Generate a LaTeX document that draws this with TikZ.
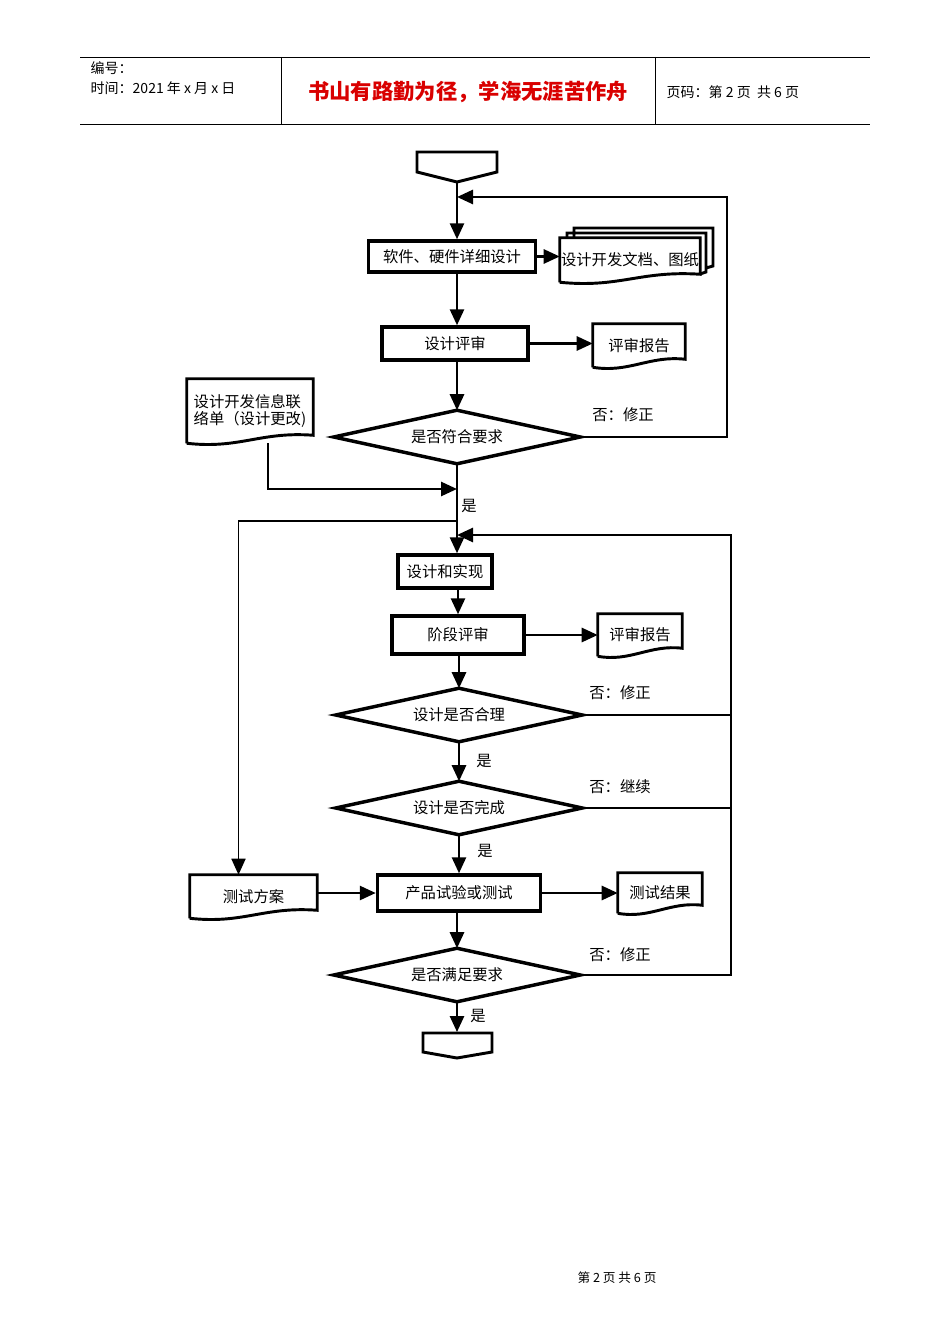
\documentclass[tikz,border=0pt]{standalone}
\usepackage{fontspec}
\setmainfont{Noto Sans CJK SC}
\usetikzlibrary{shapes.geometric,arrows.meta,calc}
\begin{document}
\begin{tikzpicture}[x=0.75pt,y=-0.75pt,
  box/.style={draw,line width=2.6pt,inner sep=0pt,font=\fontsize{11.5}{13}\selectfont},
  doc/.style={inner sep=0pt,font=\fontsize{11.5}{13}\selectfont},
  dia/.style={inner sep=0pt,minimum width=184.5pt,minimum height=39.75pt,font=\fontsize{11.5}{13}\selectfont},
  arr/.style={line width=2pt,-{Triangle[length=12pt,width=10.5pt]}},
  ln/.style={line width=2pt},
  lab/.style={font=\fontsize{11.5}{13}\selectfont},
  docline/.style={line width=2.2pt}]
\fill[white] (0,0) rectangle (950,1344);
\useasboundingbox (0,0) rectangle (950,1344);
% header
\draw[line width=0.6pt] (80,57) -- (870,57) (80,124) -- (870,124) (281,57) -- (281,124) (655,57) -- (655,124);
\node[anchor=west,font=\fontsize{10.5}{12}\selectfont] (h1) at (86,68) {编号：};
\node[anchor=west,font=\fontsize{10.5}{12}\selectfont] (h2) at (86,88) {时间：2021 年 x 月 x 日};
\node[font=\fontsize{16}{18}\selectfont\bfseries,text=red!85!black] (h3) at (468,92) {书山有路勤为径，学海无涯苦作舟};
\node[anchor=west,font=\fontsize{10.5}{12}\selectfont] (h4) at (662,92) {页码：第 2 页\ \ 共 6 页};
\node[font=\fontsize{9.5}{11}\selectfont] (ft) at (617,1278) {第 2 页 共 6 页};
% start / end
\node[minimum width=60pt,minimum height=19.5pt,inner sep=0pt] (st) at (457,165) {};
\draw[line width=2.2pt] (417,152) -- (497,152) -- (497,172) -- (457,182) -- (417,172) -- cycle;
\coordinate (stb) at (457,182);
\node[minimum width=52pt,minimum height=19pt,inner sep=0pt] (en) at (457,1045) {};
\draw[line width=2.2pt] (423,1033) -- (492,1033) -- (492,1052) -- (457,1058) -- (423,1052) -- cycle;
% boxes
\node[box,minimum width=125.25pt,minimum height=23.25pt] (b1) at (452,256.5) {软件、硬件详细设计};
\node[box,minimum width=109.5pt,minimum height=24.75pt] (b2) at (455,343.5) {设计评审};
\node[box,minimum width=70.5pt,minimum height=24.75pt] (b3) at (445,571.5) {设计和实现};
\node[box,minimum width=99pt,minimum height=28.5pt] (b4) at (458,635) {阶段评审};
\node[box,minimum width=122.25pt,minimum height=27pt] (b5) at (459,893) {产品试验或测试};
% diamonds
\newcommand{\diaframe}[1]{\draw[line width=2.6pt] (#1.west) -- (#1.north) -- (#1.east) -- (#1.south) -- cycle;}
\node[dia] (dm1) at (457,437) {是否符合要求};
\node[dia] (dm2) at (459,715) {设计是否合理};
\node[dia] (dm3) at (459,808) {设计是否完成};
\node[dia] (dm4) at (457,975) {是否满足要求};
\diaframe{dm1}\diaframe{dm2}\diaframe{dm3}\diaframe{dm4}
% documents
\newcommand{\docframe}[1]{\draw[docline] (#1.south west) -- (#1.north west) -- (#1.north east) -- ($(#1.south east)+(0,-8)$) .. controls ($(#1.south)+(10,-12)$) and ($(#1.south)+(-10,6)$) .. (#1.south west);}
\draw[docline] (574,238) -- (574,228) -- (713,228) -- (713,266) -- (706,268) (567,238) -- (567,233) -- (706,233) -- (706,272) -- (700,274);
\node[doc,minimum width=105pt,minimum height=33pt] (d1) at (630,260) {设计开发文档、图纸};
\docframe{d1}
\node[doc,minimum width=69pt,minimum height=32.25pt] (d2) at (639,345.5) {评审报告};
\docframe{d2}
\node[doc,minimum width=94.5pt,minimum height=48pt,align=left] (d3) at (250,411) {设计开发信息联\\络单（设计更改)};
\docframe{d3}
\node[doc,minimum width=63pt,minimum height=31.5pt] (d4) at (640,635) {评审报告};
\docframe{d4}
\node[doc,minimum width=95.25pt,minimum height=32.25pt] (d5) at (253.5,896.5) {测试方案};
\docframe{d5}
\node[doc,minimum width=63pt,minimum height=30pt] (d6) at (660,893) {测试结果};
\docframe{d6}
% coordinates
\coordinate (m1) at (457,197);
\coordinate (r1) at (727,197);
\coordinate (j1) at (457,489);
\coordinate (j2) at (457,521);
\coordinate (m2) at (457,535);
\coordinate (r2) at (731,535);
% connectors
\draw[arr] (stb) -- (stb |- b1.north);
\draw[arr] (dm1.east) -| (r1) -- (m1);
\draw[arr] (b1.east) -- (b1.east -| d1.west);
\draw[arr] (b1.south -| stb) -- (stb |- b2.north);
\draw[arr] (b2.east) -- (b2.east -| d2.west);
\draw[arr] (b2.south -| stb) -- (dm1.north);
\draw[arr] ($(d3.south)+(18,0)$) |- (j1);
\draw[arr] (dm1.south) -- (dm1.south |- b3.north);
\draw[arr,line width=1.3pt] (j2) -| ($(d5.north)+(-15,0)$);
\draw[ln] (dm2.east) -- (dm2.east -| r2);
\draw[ln] (dm3.east) -- (dm3.east -| r2);
\draw[arr] (dm4.east) -| (r2) -- (m2);
\draw[arr] (b3.south -| b4.north) -- (b4.north);
\draw[arr] (b4.east) -- (b4.east -| d4.west);
\draw[arr] (b4.south -| dm2.north) -- (dm2.north);
\draw[arr] (dm2.south) -- (dm3.north);
\draw[arr] (dm3.south) -- (b5.north -| dm3.south);
\draw[arr] (d5.east |- b5.west) -- (b5.west);
\draw[arr] (b5.east) -- (b5.east -| d6.west);
\draw[arr] (b5.south -| dm4.north) -- (dm4.north);
\draw[arr] (dm4.south) -- (en.north);
% labels
\node[lab] (y1) at (469,506) {是};
\node[lab] (y2) at (484,761) {是};
\node[lab] (y3) at (485,851) {是};
\node[lab] (y4) at (478,1016) {是};
\node[lab] (n1) at (623,415) {否：修正};
\node[lab] (n2) at (620,693) {否：修正};
\node[lab] (n3) at (620,787) {否：继续};
\node[lab] (n4) at (620,955) {否：修正};
\end{tikzpicture}
\end{document}
